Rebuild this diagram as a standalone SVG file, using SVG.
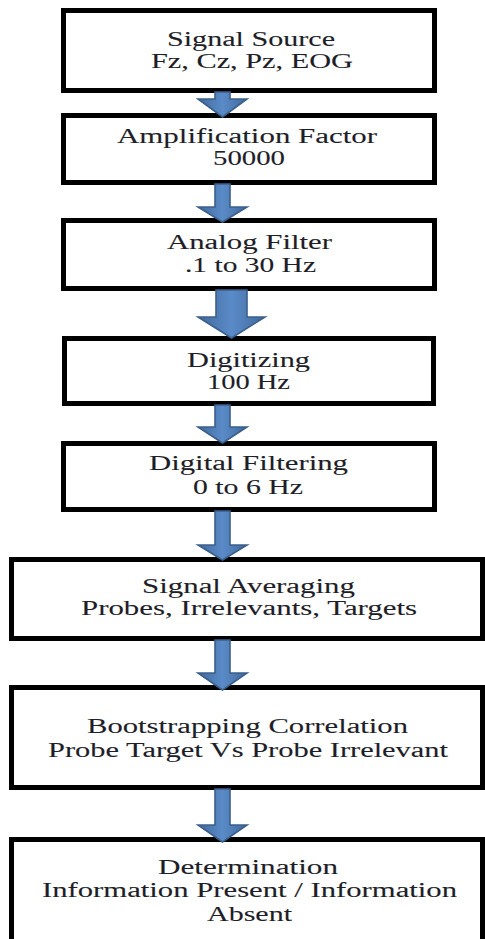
<svg xmlns="http://www.w3.org/2000/svg" width="485" height="939" viewBox="0 0 485 939">
  <style>
    .box { fill: #ffffff; stroke: #000000; stroke-width: 5; }
    .lbl { font-family: 'Liberation Serif', 'Times New Roman', Times, serif; font-size: 20px; fill: #1e1e28; stroke: #1e1e28; stroke-width: 0.1; }
    .arrow { fill: url(#shaftShade); stroke: #3b5f8b; stroke-width: 1.6; stroke-linejoin: miter; }
  </style>
  <defs>
    <linearGradient id="shaftShade" x1="0" y1="0" x2="1" y2="0">
      <stop offset="0" stop-color="#41699c"/>
      <stop offset="0.5" stop-color="#5a8bc8"/>
      <stop offset="1" stop-color="#41699c"/>
    </linearGradient>
  </defs>

  <rect width="485" height="939" fill="#ffffff"/>

  <!-- processing stages -->
  <g id="signal-source">
    <rect class="box" x="63.5" y="10.5" width="371" height="80"/>
    <text class="lbl" x="167" y="46" textLength="168" lengthAdjust="spacingAndGlyphs">Signal Source</text>
    <text class="lbl" x="151" y="68" textLength="202" lengthAdjust="spacingAndGlyphs">Fz, Cz, Pz, EOG</text>
  </g>
  <g id="amplification">
    <rect class="box" x="63.5" y="115.5" width="371" height="67"/>
    <text class="lbl" x="117" y="143" textLength="260" lengthAdjust="spacingAndGlyphs">Amplification Factor</text>
    <text class="lbl" x="213" y="165" textLength="72" lengthAdjust="spacingAndGlyphs">50000</text>
  </g>
  <g id="analog-filter">
    <rect class="box" x="63.5" y="220.5" width="371" height="68"/>
    <text class="lbl" x="167" y="249" textLength="165" lengthAdjust="spacingAndGlyphs">Analog Filter</text>
    <text class="lbl" x="185" y="272" textLength="131" lengthAdjust="spacingAndGlyphs">.1 to 30 Hz</text>
  </g>
  <g id="digitizing">
    <rect class="box" x="64.5" y="338.5" width="369" height="65"/>
    <text class="lbl" x="187" y="367" textLength="123" lengthAdjust="spacingAndGlyphs">Digitizing</text>
    <text class="lbl" x="207" y="389" textLength="83" lengthAdjust="spacingAndGlyphs">100 Hz</text>
  </g>
  <g id="digital-filtering">
    <rect class="box" x="63.5" y="443.5" width="371" height="66"/>
    <text class="lbl" x="149" y="470" textLength="199" lengthAdjust="spacingAndGlyphs">Digital Filtering</text>
    <text class="lbl" x="193" y="494" textLength="110" lengthAdjust="spacingAndGlyphs">0 to 6 Hz</text>
  </g>
  <g id="signal-averaging">
    <rect class="box" x="11.5" y="559.5" width="471" height="79"/>
    <text class="lbl" x="142" y="593" textLength="213" lengthAdjust="spacingAndGlyphs">Signal Averaging</text>
    <text class="lbl" x="81" y="615" textLength="336" lengthAdjust="spacingAndGlyphs">Probes, Irrelevants, Targets</text>
  </g>
  <g id="bootstrapping">
    <rect class="box" x="11.5" y="687.5" width="471" height="100"/>
    <text class="lbl" x="87" y="733" textLength="321" lengthAdjust="spacingAndGlyphs">Bootstrapping Correlation</text>
    <text class="lbl" x="48" y="757" textLength="400" lengthAdjust="spacingAndGlyphs">Probe Target Vs Probe Irrelevant</text>
  </g>
  <g id="determination">
    <rect class="box" x="11.5" y="839.5" width="471" height="120"/>
    <text class="lbl" x="158" y="874" textLength="180" lengthAdjust="spacingAndGlyphs">Determination</text>
    <text class="lbl" x="42" y="897" textLength="415" lengthAdjust="spacingAndGlyphs">Information Present / Information</text>
    <text class="lbl" x="207" y="921" textLength="85" lengthAdjust="spacingAndGlyphs">Absent</text>
  </g>

  <!-- block arrows between stages -->
  <g id="connectors">
    <path class="arrow" d="M215,92 H230 V99 H247 L222.5,117 L198,99 H215 Z"/>
    <path class="arrow" d="M215,184 H230 V207 H247 L222.5,222 L198,207 H215 Z"/>
    <path class="arrow" d="M216,290 H247 V317 H265 L231.5,338 L198,317 H216 Z"/>
    <path class="arrow" d="M215,405 H230 V427 H247 L222.5,443 L198,427 H215 Z"/>
    <path class="arrow" d="M215,511 H230 V545 H247 L222.5,560 L198,545 H215 Z"/>
    <path class="arrow" d="M215,640 H230 V673 H247 L222.5,690 L198,673 H215 Z"/>
    <path class="arrow" d="M215,789 H230 V825 H247 L222.5,842 L198,825 H215 Z"/>
  </g>
</svg>
